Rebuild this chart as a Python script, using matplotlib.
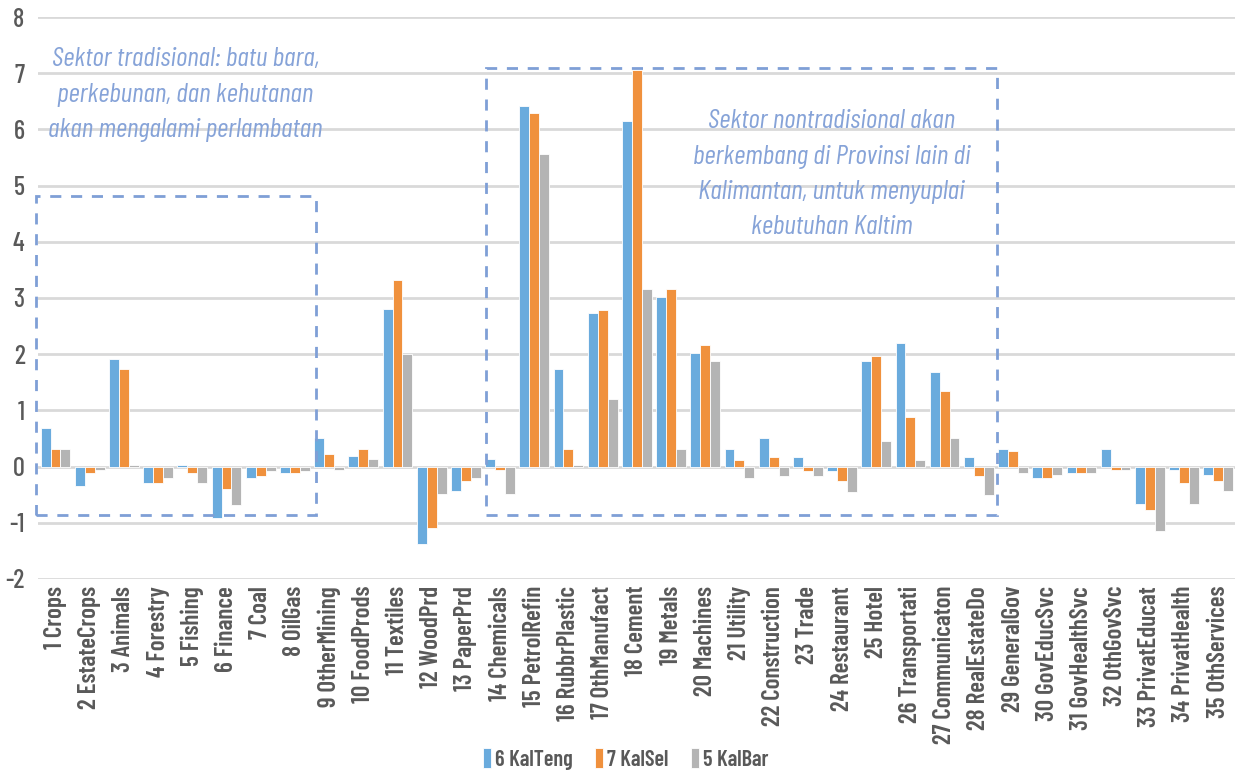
import numpy as np
import matplotlib
matplotlib.use('Agg')
import matplotlib.pyplot as plt
from matplotlib.patches import Rectangle

sectors = ['1 Crops', '2 EstateCrops', '3 Animals', '4 Forestry', '5 Fishing',
           '6 Finance', '7 Coal', '8 OilGas', '9 OtherMining', '10 FoodProds',
           '11 Textiles', '12 WoodPrd', '13 PaperPrd', '14 Chemicals',
           '15 PetrolRefin', '16 RubbrPlastic', '17 OthManufact', '18 Cement',
           '19 Metals', '20 Machines', '21 Utility', '22 Construction', '23 Trade',
           '24 Restaurant', '25 Hotel', '26 Transportati', '27 Communicaton',
           '28 RealEstateDo', '29 GeneralGov', '30 GovEducSvc', '31 GovHealthSvc',
           '32 OthGovSvc', '33 PrivatEducat', '34 PrivatHealth', '35 OthServices']

kalteng = [0.69, -0.35, 1.92, -0.30, 0.03, -0.92, -0.21, -0.11, 0.50, 0.18,
           2.80, -1.38, -0.44, 0.13, 6.42, 1.73, 2.73, 6.15, 3.01, 2.02,
           0.31, 0.50, 0.17, -0.07, 1.87, 2.20, 1.68, 0.17, 0.32, -0.20,
           -0.11, 0.32, -0.67, -0.06, -0.15]
kalsel = [0.32, -0.11, 1.73, -0.30, -0.11, -0.40, -0.16, -0.11, 0.22, 0.32,
          3.32, -1.09, -0.25, -0.06, 6.29, 0.31, 2.78, 7.05, 3.16, 2.16,
          0.12, 0.17, -0.07, -0.26, 1.97, 0.88, 1.35, -0.16, 0.27, -0.20,
          -0.11, -0.06, -0.77, -0.30, -0.25]
kalbar = [0.32, -0.06, 0.02, -0.21, -0.30, -0.68, -0.07, -0.07, -0.06, 0.13,
          2.01, -0.49, -0.20, -0.49, 5.57, 0.02, 1.20, 3.16, 0.31, 1.88,
          -0.21, -0.16, -0.16, -0.45, 0.45, 0.12, 0.50, -0.50, -0.11, -0.15,
          -0.11, -0.06, -1.14, -0.67, -0.43]

series_names = ['6 KalTeng', '7 KalSel', '5 KalBar']
colors = ['#6AABDD', '#F0913D', '#B4B4B4']

note_left = 'Sektor tradisional: batu bara,\nperkebunan, dan kehutanan\nakan mengalami perlambatan'
note_right = ('Sektor nontradisional akan\nberkembang di Provinsi lain di\n'
              'Kalimantan, untuk menyuplai\nkebutuhan Kaltim')

plt.rcParams['axes.unicode_minus'] = False
fam = ['Barlow Condensed', 'DejaVu Sans']
grey_txt = '#595959'
box_col = '#7F9FD6'
note_col = '#86A3D8'

fig = plt.figure(figsize=(12.39, 7.73), dpi=100)
ax = fig.add_axes([0.031, 0.251, 0.966, 0.727])

x = np.arange(len(sectors))
w = 0.29
for i, (vals, name, c) in enumerate(zip([kalteng, kalsel, kalbar], series_names, colors)):
    ax.bar(x + (i - 1) * w, vals, w, color=c, edgecolor='white', linewidth=0.6,
           label=name, zorder=3)

ax.set_xlim(-0.5, len(sectors) - 0.5)
ax.set_ylim(-2, 8)
ax.set_yticks(range(-2, 9))
ax.grid(axis='y', color='#D9D9D9', linewidth=2, zorder=0)
ax.set_axisbelow(True)
for s in ax.spines.values():
    s.set_visible(False)
ax.tick_params(length=0)
ax.tick_params(axis='y', pad=10)
ax.tick_params(axis='x', pad=5)
ax.set_xticks(x)
ax.set_xticklabels(sectors, rotation=90, family=fam, fontweight='semibold',
                   fontsize=18, color=grey_txt)
for lab in ax.get_yticklabels():
    lab.set_family(fam)
    lab.set_fontsize(19)
    lab.set_fontweight('medium')
    lab.set_color(grey_txt)

# dashed boxes
ax.add_patch(Rectangle((-0.56, -0.87), 8.17, 5.68, fill=False, ls=(0, (4, 3.5)),
                       lw=2, ec=box_col, zorder=4, clip_on=False))
ax.add_patch(Rectangle((12.59, -0.87), 14.94, 7.96, fill=False, ls=(0, (4, 3.5)),
                       lw=2, ec=box_col, zorder=4, clip_on=False))

ax.text(3.8, 6.62, note_left, ha='center', va='center', style='italic',
        family=fam, fontweight='normal', fontsize=20, color=note_col, linespacing=1.6)
ax.text(22.7, 5.2, note_right, ha='center', va='center', style='italic',
        family=fam, fontweight='normal', fontsize=20, color=note_col, linespacing=1.6)

leg = fig.legend(loc='lower center', bbox_to_anchor=(0.505, -0.022), ncol=3,
                 frameon=False, handlelength=0.35, handleheight=1.0,
                 handletextpad=0.2, columnspacing=1.0,
                 prop={'family': fam, 'weight': 'semibold', 'size': 16})
for t in leg.get_texts():
    t.set_color(grey_txt)

fig.savefig('out.png', dpi=100)
